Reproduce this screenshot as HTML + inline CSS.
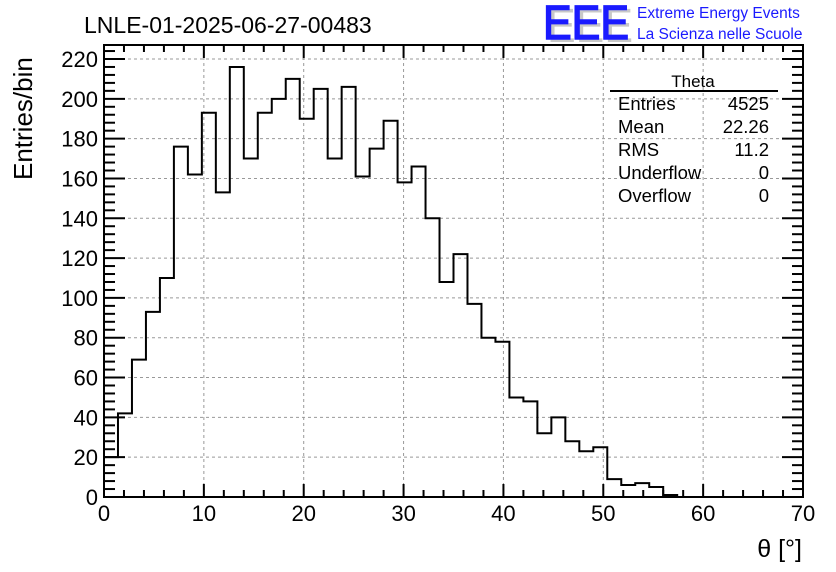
<!DOCTYPE html>
<html><head><meta charset="utf-8"><style>
body{margin:0;background:#fff;}
svg{display:block;font-family:"Liberation Sans",Arial,sans-serif;}
</style></head><body>
<svg id="chart" width="836" height="572" viewBox="0 0 836 572">
<rect x="0" y="0" width="836" height="572" fill="#fff"/>
<text x="84" y="33" font-size="23" fill="#000">LNLE-01-2025-06-27-00483</text>
<g>
<text x="547" y="42" font-size="48" fill="#c8c8c8" textLength="86" lengthAdjust="spacingAndGlyphs">EEE</text>
<text x="543" y="39" font-size="48" fill="#1a1aff" stroke="#1a1aff" stroke-width="1.5" textLength="86" lengthAdjust="spacingAndGlyphs">EEE</text>
<text x="637" y="18" font-size="15.5" fill="#1a1aff">Extreme Energy Events</text>
<text x="637" y="39" font-size="15.5" fill="#1a1aff">La Scienza nelle Scuole</text>
</g>
<g id="grid"></g>
<g id="ticks"></g>
<path id="hist" fill="none" stroke="#000" stroke-width="2"/>
<rect x="104" y="45" width="699" height="452" fill="none" stroke="#000" stroke-width="2"/>
<g id="labels"></g>
<text x="0" y="0" font-size="26" transform="translate(32,180) rotate(-90)">Entries/bin</text>
<text x="802" y="557" font-size="25" text-anchor="end">θ [°]</text>
<g>
<text x="693" y="87" font-size="17" text-anchor="middle">Theta</text>
<line x1="610" y1="91" x2="778" y2="91" stroke="#000" stroke-width="2"/>
<text x="618" y="110" font-size="18.5">Entries</text><text x="769" y="110" font-size="18.5" text-anchor="end">4525</text>
<text x="618" y="133" font-size="18.5">Mean</text><text x="769" y="133" font-size="18.5" text-anchor="end">22.26</text>
<text x="618" y="156" font-size="18.5">RMS</text><text x="769" y="156" font-size="18.5" text-anchor="end">11.2</text>
<text x="618" y="179" font-size="18.5">Underflow</text><text x="769" y="179" font-size="18.5" text-anchor="end">0</text>
<text x="618" y="202" font-size="18.5">Overflow</text><text x="769" y="202" font-size="18.5" text-anchor="end">0</text>
</g>
</svg>
<script>
const counts=[20,42,69,93,110,176,162,193,153,216,170,193,200,210,190,205,170,206,161,175,189,158,166,140,108,122,97,80,78,50,48,32,40,28,23,25,9,6,7,5,1,0,0,0,0,0,0,0,0,0];
const xRange=[0,70];
const yRange=[0,220];
const xTickLabels=[0,10,20,30,40,50,60,70];
const yTickLabels=[0,20,40,60,80,100,120,140,160,180,200,220];
const NS="http://www.w3.org/2000/svg";
const X0=104,X1=803,Y0=497,Y1=59;
function sx(v){return X0+(v-xRange[0])/(xRange[1]-xRange[0])*(X1-X0);}
function sy(v){return Y0-(v-yRange[0])/(yRange[1]-yRange[0])*(Y0-Y1);}
function mk(tag,attrs,parent){const e=document.createElementNS(NS,tag);for(const k in attrs)e.setAttribute(k,attrs[k]);parent.appendChild(e);return e;}
const grid=document.getElementById('grid'),ticks=document.getElementById('ticks'),labels=document.getElementById('labels');
xTickLabels.forEach(v=>{
  const x=sx(v);
  if(v>xRange[0]&&v<xRange[1]){const g=mk('line',{x1:x,y1:45,x2:x,y2:Y0,stroke:'#999','stroke-dasharray':'3,3','stroke-width':1},grid);
  
  }
  const t=mk('text',{x:x,y:521,'font-size':22,'text-anchor':'middle'},labels);t.textContent=v;
  
  
});
for(let v=xRange[0];v<=xRange[1];v+=2){
  const x=sx(v),len=(v%10===0)?13:7;
  mk('line',{x1:x,y1:Y0,x2:x,y2:Y0-len,stroke:'#000','stroke-width':2},ticks);
  mk('line',{x1:x,y1:45,x2:x,y2:45+len,stroke:'#000','stroke-width':2},ticks);
}
yTickLabels.forEach(v=>{
  const y=sy(v);
  if(v>yRange[0]){const g=mk('line',{x1:X0,y1:y,x2:X1,y2:y,stroke:'#999','stroke-dasharray':'3,3','stroke-width':1},grid);
  
  }
  const t=mk('text',{x:98,y:y+8,'font-size':22,'text-anchor':'end'},labels);t.textContent=v;
  
  
});
for(let v=0;v<=226;v+=4){
  const y=sy(v);if(y<46)continue;const len=(v%20===0)?21:11;
  mk('line',{x1:X0,y1:y,x2:X0+len,y2:y,stroke:'#000','stroke-width':2},ticks);
  mk('line',{x1:X1,y1:y,x2:X1-len,y2:y,stroke:'#000','stroke-width':2},ticks);
}
const bw=(xRange[1]-xRange[0])/counts.length;
let d='M'+sx(0)+','+sy(0);
counts.forEach((c,i)=>{d+=' L'+sx(i*bw)+','+sy(c)+' L'+sx((i+1)*bw)+','+sy(c);});
document.getElementById('hist').setAttribute('d',d);
</script>
</body></html>
